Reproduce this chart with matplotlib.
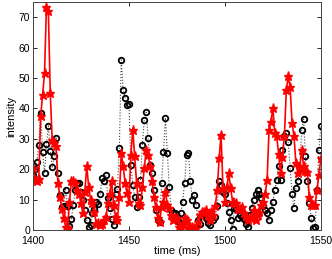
import numpy as np
import matplotlib
matplotlib.use("Agg")
import matplotlib.pyplot as plt

# sample times (ms), one sample per ms
t_start, t_stop = 1400, 1550

# black circles, dotted line
black_vals = [
    18, 20, 22.5, 28, 38.5, 25.8, 18.7, 28.4, 34.3, 26,
    20.7, 24.2, 30.3, 18.9, 11.4, 7.5, 8, 13.3, 8, 1.3,
    3.5, 8.3, 13, 15.6, 15.4, 12.6, 10, 6.6, 3.3, 1,
    1.5, 5.5, 7, 9.3, 8.5, 12, 17, 16, 18, 10.5,
    7.2, 3.5, 1.7, 12, 13.6, 27, 56, 46, 43.5, 41,
    41.6, 21.5, 14.9, 11, 7.7, 11, 16.5, 28, 36.3, 38.7,
    30.3, 21.5, 18.7, 13, 6.6, 3.2, 2.5, 15.4, 25.8, 37,
    25.3, 14.3, 6.6, 5.5, 5.5, 3, 2.7, 5.5, 9.3, 15.4,
    24.8, 25.3, 16, 10, 11.5, 8.3, 3.3, 2, 5.5, 5,
    3.8, 2.2, 1.5, 4, 3.3, 4.4, 8, 16, 14.9, 12.6,
    12, 9, 6, 3.3, 0.2, 7.2, 7, 3.8, 5, 4.4,
    3.5, 2, 1, 5, 7.2, 9.9, 12, 13.2, 12, 10.5,
    8, 6.6, 5.5, 3.3, 6.6, 9.3, 13.2, 16.5, 21, 16.5,
    26.4, 30.8, 32, 29, 20.4, 12, 7.2, 13.8, 16, 20.4,
    33, 36.5, 24.2, 16, 9, 3.8, 0.5, 1, 13.2, 26.4, 34.1,
]

# red stars, solid line
red_vals = [
    20.4, 16.3, 16, 16.7, 37.4, 44.5, 51.5, 73.5, 72, 45,
    29.7, 28.5, 27.5, 15.4, 11, 7, 3.9, 1.1, 0.5, 9.3,
    16, 16, 15.4, 13.2, 12, 8.8, 5.5, 12.6, 21, 14.3,
    9.9, 8.8, 6, 2, 2.4, 1.5, 2, 3.3, 4.4, 8.8,
    12, 16, 8.3, 4.4, 3.3, 11, 25.3, 20.9, 15.4, 12.1,
    9.3, 24.8, 33, 24.2, 15.4, 8.8, 8.3, 14, 20.4, 26.4,
    24.8, 20.9, 16, 11, 7.7, 3.9, 2.7, 7.7, 9.3, 12.6,
    8.3, 7.2, 5, 3.3, 3.9, 3.9, 1.1, 0.6, 2, 3.9,
    3.3, 1.1, 1, 1.1, 0.8, 0.6, 2.7, 5, 6, 6,
    6.6, 5, 3.3, 6, 5, 8, 13.2, 23.6, 31.4, 13.8,
    9.3, 14, 18.7, 13.8, 9.3, 9, 8.8, 6.8, 7, 7.7,
    5.5, 4.5, 3.3, 3.9, 4.4, 6.6, 3.3, 5, 6, 8.3,
    9.3, 12, 16.5, 33, 35.7, 40.2, 31.9, 30.8, 25, 18.7,
    24, 30.8, 46, 50.6, 47, 35.2, 30.8, 22, 18.7, 20.4,
    26.4, 21, 19.4, 19, 11, 8.3, 8.3, 8.3, 13.2, 18.1, 23.6,
]

xticks = [1400, 1450, 1500, 1550]
yticks = [0, 10, 20, 30, 40, 50, 60, 70]

t = np.arange(t_start, t_stop + 1)

plt.rcParams['font.family'] = ['Liberation Sans', 'DejaVu Sans']

fig = plt.figure(figsize=(3.32, 2.59), dpi=100)
ax = fig.add_axes([0.0994, 0.112, 0.867, 0.880])

ax.plot(t, black_vals, ':', color='#444444', lw=0.8,
        marker='o', mfc='none', mec='k', ms=4, mew=1.3)
ax.plot(t, red_vals, '-', color='red', lw=1.2,
        marker='*', mfc='red', mec='red', ms=6.5)

ax.set_xlim(t_start, t_stop)
ax.set_ylim(0, 75)
ax.set_xticks(xticks)
ax.set_yticks(yticks)
ax.tick_params(direction='in', top=True, right=True, length=3,
               width=0.6, labelsize=7.5)
ax.tick_params(axis='x', pad=4)
ax.tick_params(axis='y', pad=2)
for s in ax.spines.values():
    s.set_linewidth(0.7)
    s.set_color('#444444')
ax.set_xlabel('time (ms)', fontsize=8, labelpad=0)
ax.set_ylabel('intensity', fontsize=8, labelpad=2)

fig.savefig('out.png', dpi=100)
